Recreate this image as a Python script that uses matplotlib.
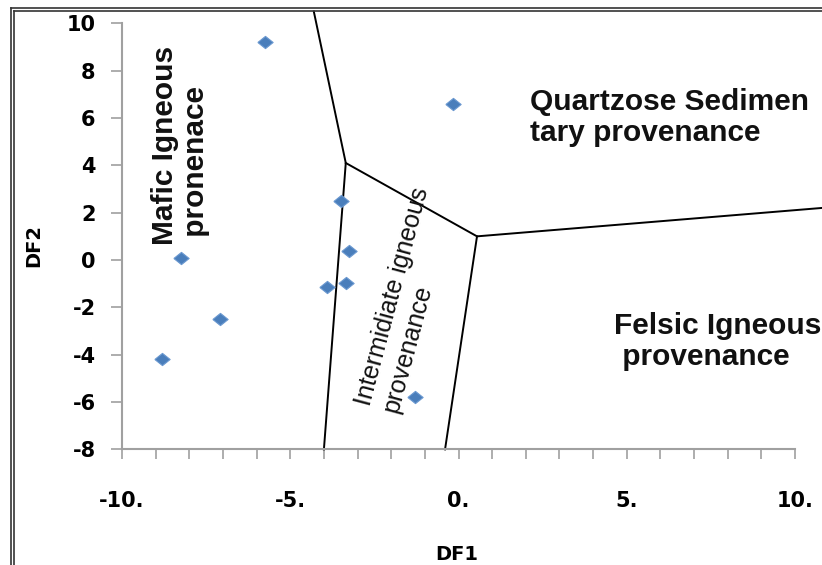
import matplotlib
matplotlib.use("Agg")
import matplotlib.pyplot as plt
from matplotlib.lines import Line2D
from matplotlib.ticker import MultipleLocator

plt.rcParams["font.family"] = ["Liberation Sans", "DejaVu Sans"]
plt.rcParams["axes.unicode_minus"] = False

# sample discriminant-function scores
df1 = [-5.75, -0.15, -3.5, -3.25, -8.25, -3.9, -3.35, -7.1, -8.8, -1.3]
df2 = [9.2, 6.6, 2.5, 0.4, 0.1, -1.15, -0.95, -2.5, -4.2, -5.8]

# field boundaries (DF1, DF2)
upper_left_x = [-4.3, -3.35, -4.0]
upper_left_y = [10.5, 4.1, -8.0]
middle_x = [-3.35, 0.55, 10.8]
middle_y = [4.1, 1.0, 2.2]
lower_right_x = [0.55, -0.4]
lower_right_y = [1.0, -8.0]

x_ticks = [-10, -5, 0, 5, 10]
x_tick_labels = ["-10.", "-5.", "0.", "5.", "10."]
y_ticks = [-8, -6, -4, -2, 0, 2, 4, 6, 8, 10]

W, H = 822, 565
fig = plt.figure(figsize=(W / 100, H / 100), dpi=100)
ax = fig.add_axes([122 / W, (H - 449.4) / H, (795 - 122) / W, (449.4 - 23.3) / H])

for bx, by in [(upper_left_x, upper_left_y), (middle_x, middle_y),
               (lower_right_x, lower_right_y)]:
    ax.plot(bx, by, color="black", lw=1.4, clip_on=False, zorder=2)

# slightly flattened diamond
diamond = [(-1.25, 0), (0, 1), (1.25, 0), (0, -1), (-1.25, 0)]
ax.plot(df1, df2, linestyle="none", marker=diamond, markersize=11,
        color="#4a7ebb", markeredgecolor="#6a98d0", markeredgewidth=0.8, zorder=3)

ax.set_xlim(-10, 10)
ax.set_ylim(-8, 10)
ax.set_xticks(x_ticks)
ax.set_xticklabels(x_tick_labels)
ax.xaxis.set_minor_locator(MultipleLocator(1))
ax.set_yticks(y_ticks)

for side in ("top", "right"):
    ax.spines[side].set_visible(False)
for side in ("left", "bottom"):
    ax.spines[side].set_color("#a0a0a0")
    ax.spines[side].set_linewidth(1.5)

ax.tick_params(axis="x", which="both", direction="out", length=7, width=1.2,
               color="#a0a0a0", pad=23)
ax.tick_params(axis="y", which="both", direction="out", length=8, width=1.2,
               color="#a0a0a0", pad=11)
for lab in ax.get_xticklabels() + ax.get_yticklabels():
    lab.set_family("DejaVu Sans")
    lab.set_fontweight("bold")
    lab.set_fontsize(15)

ax.set_xlabel("DF1", fontsize=14, fontweight="bold", family="DejaVu Sans")
ax.set_ylabel("DF2", fontsize=14, fontweight="bold", family="DejaVu Sans")
ax.xaxis.set_label_coords(0.498, -0.224)
ax.yaxis.set_label_coords(-0.117, 0.478)

label_kw = dict(fontsize=21.5, fontweight="bold", color="#111111",
                linespacing=1.1, multialignment="left")
ax.text(-8.26, 4.86, "Mafic Igneous\n pronenace", rotation=90,
        ha="center", va="center", **label_kw)
ax.text(2.11, 6.02, "Quartzose Sedimen\ntary provenance",
        ha="left", va="center", **label_kw)
ax.text(4.61, -3.44, "Felsic Igneous\n provenance",
        ha="left", va="center", **label_kw)
ax.text(-1.55, -1.69, "Intermidiate igneous\nprovenance", rotation=75,
        rotation_mode="anchor", ha="center", va="center", multialignment="left",
        fontsize=18, color="#111111", linespacing=1.25)

# double picture frame along the top and left edges
for off in (0, 3):
    fig.add_artist(Line2D([(11 + off) / W, (11 + off) / W], [0, (H - 8 - off) / H],
                          transform=fig.transFigure, color="#333333", lw=1.2))
    fig.add_artist(Line2D([(11 + off) / W, 1], [(H - 8 - off) / H, (H - 8 - off) / H],
                          transform=fig.transFigure, color="#333333", lw=1.2))

fig.savefig("out.png", dpi=100)
